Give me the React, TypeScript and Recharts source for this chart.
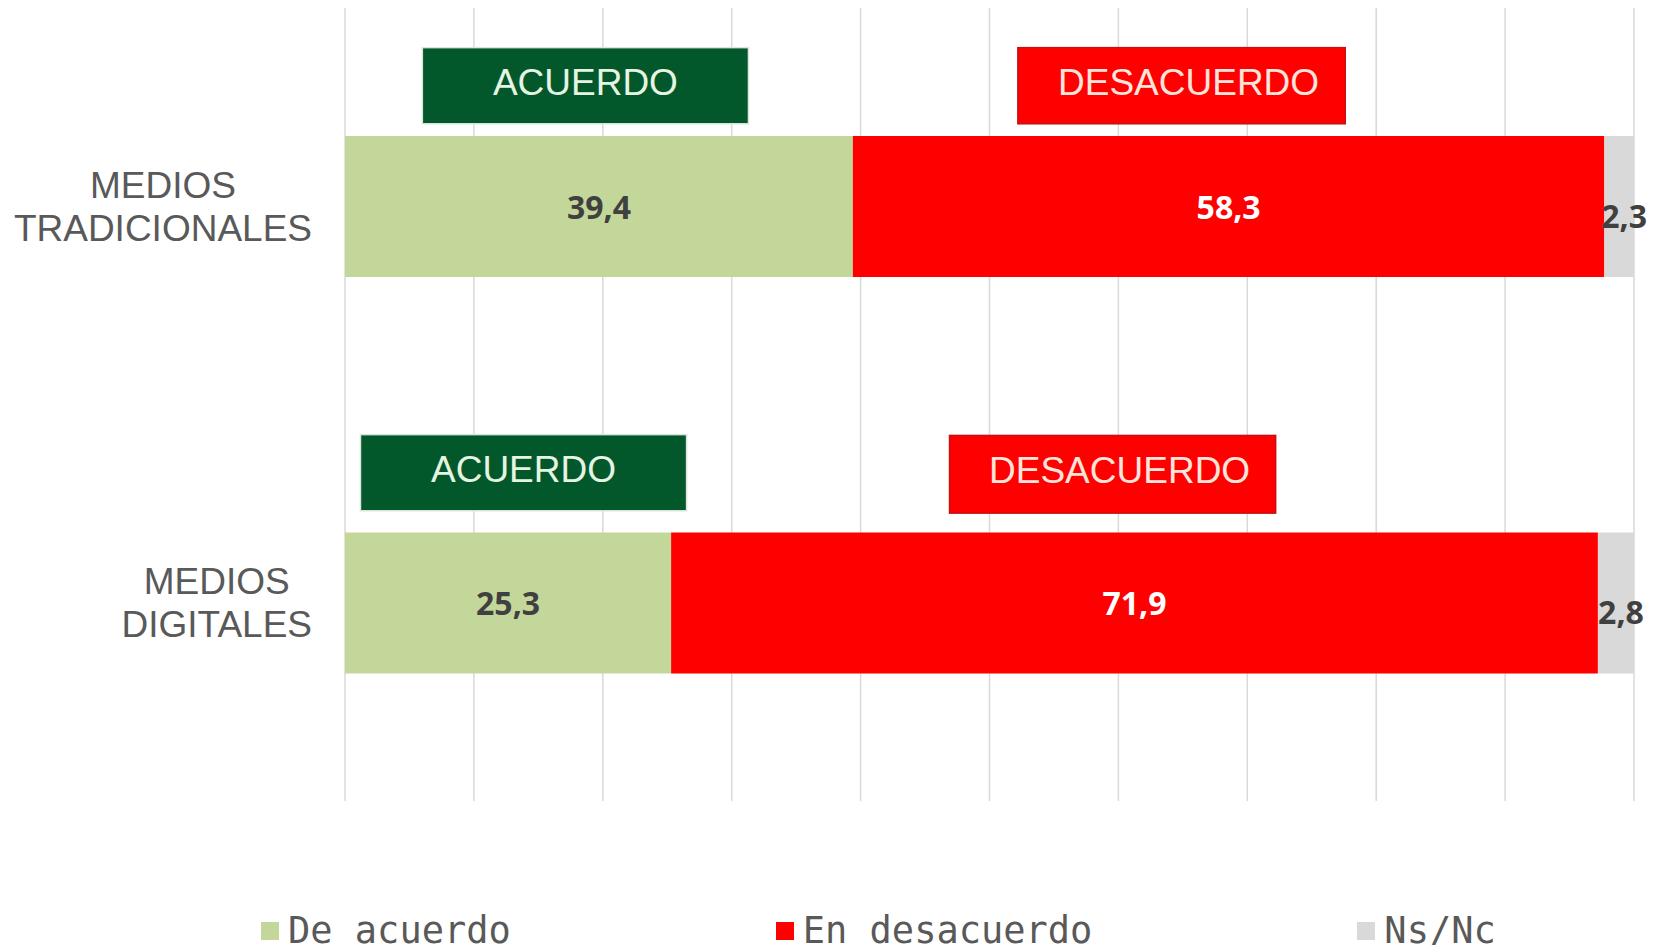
import React from 'react';
import {
  Bar,
  BarChart,
  CartesianGrid,
  LabelList,
  Legend,
  ReferenceArea,
  XAxis,
  YAxis,
} from 'recharts';

// Valores (porcentajes)
const CATEGORIAS = ['MEDIOS TRADICIONALES', 'MEDIOS DIGITALES'];
const DE_ACUERDO = [39.4, 25.3];
const EN_DESACUERDO = [58.3, 71.9];
const NS_NC = [2.3, 2.8];
const X_TICKS = [0, 10, 20, 30, 40, 50, 60, 70, 80, 90, 100];

const SERIES = [
  { key: 'deAcuerdo', name: 'De acuerdo', values: DE_ACUERDO, color: '#c4d79b', text: '#404040', dx: 0, dy: 0 },
  { key: 'enDesacuerdo', name: 'En desacuerdo', values: EN_DESACUERDO, color: '#ff0000', text: '#ffffff', dx: 0, dy: 0 },
  { key: 'nsNc', name: 'Ns/Nc', values: NS_NC, color: '#d9d9d9', text: '#404040', dx: 5, dy: 9 },
];

// Cajas de texto encima de cada barra (x en %, y en % del alto del área de trazado)
const CAJAS = [
  { texto: 'ACUERDO', x1: 6.0, x2: 31.3, y1: 5.0, y2: 14.6, fondo: '#03582b', borde: '#dbe6db', color: '#e6f4e2', dx: 0 },
  { texto: 'DESACUERDO', x1: 52.2, x2: 77.6, y1: 5.0, y2: 14.6, fondo: '#ff0000', borde: '#c81010', color: '#ffe4dc', dx: 7 },
  { texto: 'ACUERDO', x1: 1.2, x2: 26.5, y1: 53.8, y2: 63.4, fondo: '#03582b', borde: '#dbe6db', color: '#e6f4e2', dx: 0 },
  { texto: 'DESACUERDO', x1: 46.9, x2: 72.2, y1: 53.9, y2: 63.7, fondo: '#ff0000', borde: '#c81010', color: '#ffe4dc', dx: 7 },
];

const data = CATEGORIAS.map((categoria, i) => {
  const row: Record<string, string | number> = { categoria };
  for (const s of SERIES) row[s.key] = s.values[i];
  return row;
});

const SANS = '"Liberation Sans", Arial, sans-serif';
const BOLD = '"Open Sans", "Liberation Sans", sans-serif';
const MONO = '"DejaVu Sans Mono", monospace';

let ctx: CanvasRenderingContext2D | null = null;
function medir(texto: string, font: string) {
  if (!ctx) ctx = document.createElement('canvas').getContext('2d');
  if (!ctx) return texto.length * 20;
  ctx.font = font;
  return ctx.measureText(texto).width;
}

function CategoriaTick(props: any) {
  const { x, y, payload } = props;
  const lineas = String(payload.value).split(' ');
  const ancho = Math.max(...lineas.map((l) => medir(l, `37px ${SANS}`)));
  const cx = x - ancho / 2;
  return (
    <g>
      {lineas.map((l, i) => (
        <text
          key={l}
          x={cx}
          y={y + 13 + (i - (lineas.length - 1) / 2) * 43}
          textAnchor="middle"
          fill="#595959"
          fontFamily={SANS}
          fontSize={37}
        >
          {l}
        </text>
      ))}
    </g>
  );
}

const etiqueta = (color: string, dx: number, dy: number) => (props: any) => {
  const { x, y, width, height, value } = props;
  const cx = Number(x) + Number(width) / 2 + dx;
  const cy = Number(y) + Number(height) / 2 + dy;
  return (
    <text
      x={cx}
      y={cy + 12}
      textAnchor="middle"
      fill={color}
      fontFamily={BOLD}
      fontWeight={700}
      fontSize={32}
    >
      {Number(value).toFixed(1).replace('.', ',')}
    </text>
  );
};

// La ReferenceArea ocupa todo el alto; la caja se coloca en su fracción vertical
const caja = (c: (typeof CAJAS)[number]) => (props: any) => {
  const { x, y, width, height } = props;
  const top = Number(y) + (Number(height) * c.y1) / 100;
  const h = (Number(height) * (c.y2 - c.y1)) / 100;
  return (
    <g>
      <rect x={x} y={top} width={width} height={h} fill={c.fondo} stroke={c.borde} strokeWidth={1.5} />
      <text
        x={Number(x) + Number(width) / 2 + c.dx}
        y={top + h / 2 + 9}
        textAnchor="middle"
        fill={c.color}
        fontFamily={SANS}
        fontSize={37}
      >
        {c.texto}
      </text>
    </g>
  );
};

function Leyenda(props: any) {
  const payload = props.payload ?? [];
  return (
    <div
      style={{
        display: 'flex',
        alignItems: 'center',
        fontFamily: MONO,
        fontSize: 37,
        lineHeight: 1,
        color: '#595959',
        whiteSpace: 'pre',
      }}
    >
      {payload.map((p: any, i: number) => (
        <div
          key={p.value}
          style={{ display: 'flex', alignItems: 'center', marginRight: i < payload.length - 1 ? 265 : 0 }}
        >
          <span style={{ display: 'inline-block', width: 18, height: 18, background: p.color, marginRight: 9 }} />
          <span>{p.value}</span>
        </div>
      ))}
    </div>
  );
}

export default function App() {
  return (
    <div
      style={{
        position: 'absolute',
        left: 0,
        top: 0,
        width: 1659,
        height: 945,
        overflow: 'hidden',
        background: '#ffffff',
      }}
    >
      <BarChart
        width={1659}
        height={945}
        data={data}
        layout="vertical"
        margin={{ top: 8, right: 25, bottom: 108, left: 0 }}
      >
        <CartesianGrid horizontal={false} stroke="#d9d9d9" strokeWidth={1.5} />
        <XAxis type="number" domain={[0, 100]} ticks={X_TICKS} hide />
        <YAxis
          type="category"
          dataKey="categoria"
          width={345}
          axisLine={false}
          tickLine={false}
          tickSize={0}
          tickMargin={33}
          tick={<CategoriaTick />}
        />
        {SERIES.map((s) => (
          <Bar
            key={s.key}
            dataKey={s.key}
            name={s.name}
            stackId="total"
            fill={s.color}
            barSize={141}
            isAnimationActive={false}
          >
            <LabelList dataKey={s.key} content={etiqueta(s.text, s.dx, s.dy)} />
          </Bar>
        ))}
        {CAJAS.map((c, i) => (
          <ReferenceArea key={i} x1={c.x1} x2={c.x2} ifOverflow="visible" shape={caja(c)} />
        ))}
        <Legend
          verticalAlign="bottom"
          height={36}
          wrapperStyle={{ left: 261, top: 912, width: 'auto' }}
          content={<Leyenda />}
        />
      </BarChart>
    </div>
  );
}
